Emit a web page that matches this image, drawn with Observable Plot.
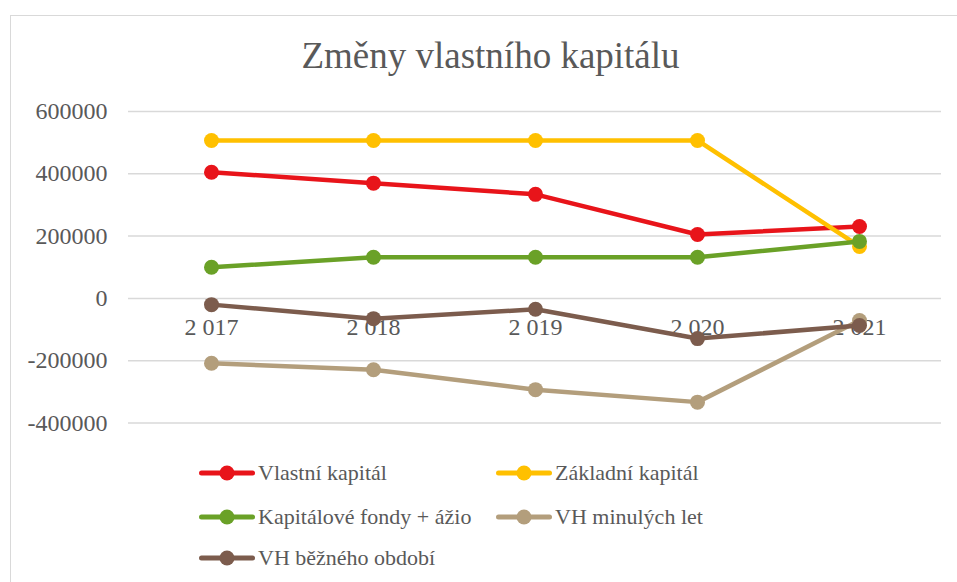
<!DOCTYPE html>
<html>
<head>
<meta charset="utf-8">
<script src="https://cdn.jsdelivr.net/npm/d3@7"></script>
<script src="https://cdn.jsdelivr.net/npm/@observablehq/plot@0.6"></script>
<style>
  html, body { margin: 0; padding: 0; background: #fff; }
  body { width: 957px; height: 582px; position: relative; overflow: hidden; font-family: "Times New Roman", Times, "Noto Serif", "Liberation Serif", "DejaVu Serif", FreeSerif, serif; color: #595959; }
  #frame { position: absolute; left: 10px; top: 15px; width: 1000px; height: 700px; border: 1.5px solid #d9d9d9; box-sizing: border-box; }
  #title { position: absolute; left: 0; width: 981px; top: 34px; text-align: center; font-size: 37px; line-height: 44px; white-space: nowrap; }
  #chart { position: absolute; left: 0; top: 0; }
  .leg { position: absolute; height: 30px; display: flex; align-items: center; font-size: 22px; white-space: nowrap; }
  .leg svg { margin-right: 3px; }
</style>
</head>
<body>
<div id="frame"></div>
<div id="title">Změny vlastního kapitálu</div>
<div id="chart"></div>
<div id="legend"></div>
<script>
const years = ["2 017", "2 018", "2 019", "2 020", "2 021"];
const seriesNames = ["Vlastní kapitál", "Základní kapitál", "Kapitálové fondy + ážio", "VH minulých let", "VH běžného období"];
const seriesColors = ["#E8141A", "#FFC000", "#6AA127", "#B39E7C", "#7C5C4D"];
const vlastniKapital = [405000, 370000, 334000, 205000, 231000];
const zakladniKapital = [507000, 507000, 507000, 507000, 167000];
const kapitaloveFondy = [100000, 132000, 132000, 132000, 183000];
const vhMinulychLet = [-208000, -229000, -293000, -333000, -71000];
const vhBeznehoObdobi = [-20000, -65000, -35000, -129000, -87000];
const yTicks = [-400000, -200000, 0, 200000, 400000, 600000];

const seriesValues = [vlastniKapital, zakladniKapital, kapitaloveFondy, vhMinulychLet, vhBeznehoObdobi];
const series = seriesNames.map((name, i) => ({
  name, color: seriesColors[i],
  data: years.map((year, j) => ({year, value: seriesValues[i][j], name}))
}));

const FONT = '"Times New Roman", Times, "Noto Serif", "Liberation Serif", "DejaVu Serif", FreeSerif, serif';
const plot = Plot.plot({
  width: 957,
  height: 440,
  marginTop: 111,
  marginBottom: 17.5,
  marginLeft: 128,
  marginRight: 16,
  style: {fontFamily: FONT, fontSize: "24px", color: "#595959", background: "transparent", overflow: "visible"},
  x: {type: "point", domain: years, padding: 0.5, axis: null},
  y: {domain: [-400000, 600000], axis: null},
  color: {domain: seriesNames, range: seriesColors},
  marks: [
    Plot.gridY(yTicks, {stroke: "#d9d9d9", strokeOpacity: 1, strokeWidth: 1.5}),
    Plot.axisY(yTicks, {tickSize: 0, tickPadding: 21, tickFormat: d => String(d), fontSize: 24, fill: "#595959", label: null}),
    Plot.text(years, {x: d => d, y: () => 0, dy: 29, fontSize: 24, fill: "#595959", textAnchor: "middle"}),
    ...series.flatMap(s => [
      Plot.line(s.data, {x: "year", y: "value", stroke: "name", strokeWidth: 4.5, strokeLinejoin: "round", strokeLinecap: "round"}),
      Plot.dot(s.data, {x: "year", y: "value", fill: "name", r: 7.5, stroke: "none"})
    ])
  ]
});
plot.querySelectorAll("text").forEach(t => t.style.fontFamily = FONT);
document.getElementById("chart").appendChild(plot);

// legend
const legendPos = [
  {x: 199, y: 473}, {x: 496, y: 473},
  {x: 199, y: 517}, {x: 496, y: 517},
  {x: 199, y: 558}
];
const legend = document.getElementById("legend");
series.forEach((s, i) => {
  const p = legendPos[i];
  const div = document.createElement("div");
  div.className = "leg";
  div.style.left = p.x + "px";
  div.style.top = (p.y - 15) + "px";
  div.innerHTML = `<svg width="56" height="20" viewBox="0 0 56 20"><line x1="2.5" y1="10" x2="53.5" y2="10" stroke="${s.color}" stroke-width="5" stroke-linecap="round"/><circle cx="28" cy="10" r="7.5" fill="${s.color}"/></svg><span>${s.name}</span>`;
  legend.appendChild(div);
});
</script>
</body>
</html>
